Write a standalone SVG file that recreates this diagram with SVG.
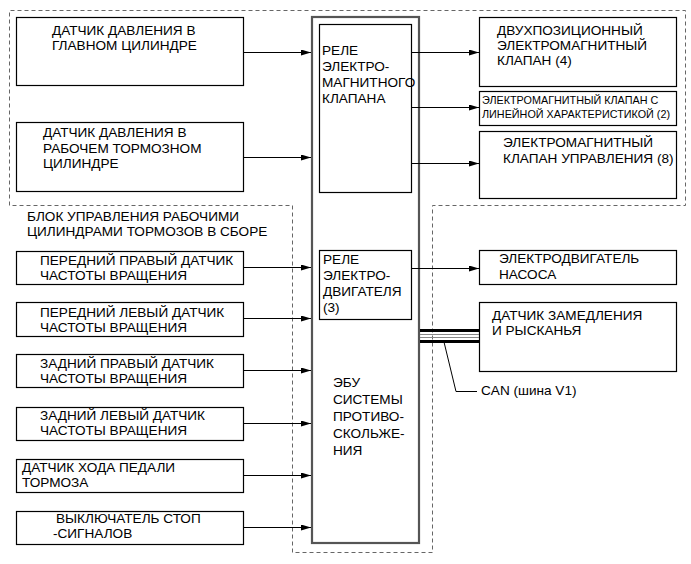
<svg xmlns="http://www.w3.org/2000/svg" width="691" height="564" viewBox="0 0 691 564">
<defs>
<style>
text{font-family:"Liberation Sans",Arial,sans-serif;font-size:13.6px;fill:#000}
.sm{font-size:10.8px}
.box{fill:#fff;stroke:#000;stroke-width:1.2}
.ecu{fill:#fff;stroke:#555;stroke-width:2.2}
.dash{fill:none;stroke:#666;stroke-width:1;stroke-dasharray:4 3}
.ln{stroke:#000;stroke-width:1;fill:none}
</style>
<marker id="ah" viewBox="0 0 10 6" refX="10" refY="3" markerWidth="10" markerHeight="6" markerUnits="userSpaceOnUse" orient="auto">
<path d="M0,0 L10,3 L0,6 z" fill="#000"/>
</marker>
</defs>

<rect width="691" height="564" fill="#fff"/>

<g id="boundary">
<path class="dash" d="M9.5,205.5 V10.5 H685.5 V205.5 H432.5 V552.5 H292.5 V205.5 H9.5"/>
</g>

<g id="ecu">
<rect class="ecu" x="312" y="17" width="107" height="526"/>
<text x="333" y="387">ЭБУ</text>
<text x="333" y="404">СИСТЕМЫ</text>
<text x="333" y="421">ПРОТИВО-</text>
<text x="333" y="438">СКОЛЬЖЕ-</text>
<text x="333" y="455">НИЯ</text>
</g>

<g id="relay-valve">
<rect class="box" x="319.5" y="24.5" width="92" height="168"/>
<text x="322" y="55">РЕЛЕ</text>
<text x="322" y="71">ЭЛЕКТРО-</text>
<text x="322" y="87">МАГНИТНОГО</text>
<text x="322" y="103">КЛАПАНА</text>
</g>

<g id="relay-motor">
<rect class="box" x="319.5" y="250.5" width="92" height="69"/>
<text x="323" y="264">РЕЛЕ</text>
<text x="323" y="280">ЭЛЕКТРО-</text>
<text x="323" y="296">ДВИГАТЕЛЯ</text>
<text x="323" y="312">(3)</text>
</g>

<g id="master-cyl-sensor">
<rect class="box" x="16.5" y="17.5" width="227" height="68"/>
<text x="52" y="35">ДАТЧИК ДАВЛЕНИЯ В</text>
<text x="52" y="50">ГЛАВНОМ ЦИЛИНДРЕ</text>
</g>

<g id="wheel-cyl-sensor">
<rect class="box" x="16.5" y="122.5" width="227" height="69"/>
<text x="43" y="137">ДАТЧИК ДАВЛЕНИЯ В</text>
<text x="43" y="152.5">РАБОЧЕМ ТОРМОЗНОМ</text>
<text x="43" y="168">ЦИЛИНДРЕ</text>
</g>

<g id="block-label">
<text x="27" y="221">БЛОК УПРАВЛЕНИЯ РАБОЧИМИ</text>
<text x="27" y="236">ЦИЛИНДРАМИ ТОРМОЗОВ В СБОРЕ</text>
</g>

<g id="fr-speed">
<rect class="box" x="16.5" y="251.5" width="227" height="33"/>
<text x="40" y="265">ПЕРЕДНИЙ ПРАВЫЙ ДАТЧИК</text>
<text x="40" y="280">ЧАСТОТЫ ВРАЩЕНИЯ</text>
</g>

<g id="fl-speed">
<rect class="box" x="16.5" y="302.5" width="227" height="34"/>
<text x="40" y="316.5">ПЕРЕДНИЙ ЛЕВЫЙ ДАТЧИК</text>
<text x="40" y="331.5">ЧАСТОТЫ ВРАЩЕНИЯ</text>
</g>

<g id="rr-speed">
<rect class="box" x="16.5" y="354.5" width="227" height="33"/>
<text x="40" y="368">ЗАДНИЙ ПРАВЫЙ ДАТЧИК</text>
<text x="40" y="383">ЧАСТОТЫ ВРАЩЕНИЯ</text>
</g>

<g id="rl-speed">
<rect class="box" x="16.5" y="407.5" width="227" height="33"/>
<text x="40" y="419.5">ЗАДНИЙ ЛЕВЫЙ ДАТЧИК</text>
<text x="40" y="435">ЧАСТОТЫ ВРАЩЕНИЯ</text>
</g>

<g id="pedal-sensor">
<rect class="box" x="16.5" y="459.5" width="227" height="33"/>
<text x="22" y="472">ДАТЧИК ХОДА ПЕДАЛИ</text>
<text x="22" y="487">ТОРМОЗА</text>
</g>

<g id="stop-switch">
<rect class="box" x="16.5" y="511.5" width="227" height="33"/>
<text x="56" y="523">ВЫКЛЮЧАТЕЛЬ СТОП</text>
<text x="53" y="538">-СИГНАЛОВ</text>
</g>

<g id="two-pos-valve">
<rect class="box" x="479.5" y="17.5" width="197" height="69"/>
<text x="497" y="35">ДВУХПОЗИЦИОННЫЙ</text>
<text x="497" y="50">ЭЛЕКТРОМАГНИТНЫЙ</text>
<text x="497" y="65">КЛАПАН (4)</text>
</g>

<g id="linear-valve">
<rect class="box" x="479.5" y="91.5" width="197" height="34"/>
<text class="sm" x="482" y="104">ЭЛЕКТРОМАГНИТНЫЙ КЛАПАН С</text>
<text class="sm" x="482" y="118">ЛИНЕЙНОЙ ХАРАКТЕРИСТИКОЙ (2)</text>
</g>

<g id="control-valve">
<rect class="box" x="479.5" y="131.5" width="197" height="67"/>
<text x="503" y="147">ЭЛЕКТРОМАГНИТНЫЙ</text>
<text x="503" y="163">КЛАПАН УПРАВЛЕНИЯ (8)</text>
</g>

<g id="pump-motor">
<rect class="box" x="479.5" y="250.5" width="197" height="34"/>
<text x="499" y="263">ЭЛЕКТРОДВИГАТЕЛЬ</text>
<text x="499" y="279">НАСОСА</text>
</g>

<g id="decel-sensor">
<rect class="box" x="479.5" y="302.5" width="197" height="69"/>
<text x="492" y="320">ДАТЧИК ЗАМЕДЛЕНИЯ</text>
<text x="492" y="335">И РЫСКАНЬЯ</text>
</g>

<g id="can-label">
<text x="481" y="395">CAN (шина V1)</text>
</g>

<g id="connectors">
<line class="ln" x1="243.5" y1="52.5" x2="311" y2="52.5" marker-end="url(#ah)"/>
<line class="ln" x1="243.5" y1="157.5" x2="311" y2="157.5" marker-end="url(#ah)"/>
<line class="ln" x1="411.5" y1="52.5" x2="479" y2="52.5" marker-end="url(#ah)"/>
<line class="ln" x1="411.5" y1="107.5" x2="479" y2="107.5" marker-end="url(#ah)"/>
<line class="ln" x1="411.5" y1="163.5" x2="479" y2="163.5" marker-end="url(#ah)"/>
<line class="ln" x1="411.5" y1="268.5" x2="479" y2="268.5" marker-end="url(#ah)"/>
<line class="ln" x1="243.5" y1="267.5" x2="311" y2="267.5" marker-end="url(#ah)"/>
<line class="ln" x1="243.5" y1="318.5" x2="311" y2="318.5" marker-end="url(#ah)"/>
<line class="ln" x1="243.5" y1="370.5" x2="311" y2="370.5" marker-end="url(#ah)"/>
<line class="ln" x1="243.5" y1="423.5" x2="311" y2="423.5" marker-end="url(#ah)"/>
<line class="ln" x1="243.5" y1="475.5" x2="311" y2="475.5" marker-end="url(#ah)"/>
<line class="ln" x1="243.5" y1="527.5" x2="311" y2="527.5" marker-end="url(#ah)"/>
<g id="can-bus">
<rect x="420" y="329" width="59" height="3" fill="#000"/>
<line x1="420" y1="334.5" x2="479" y2="334.5" stroke="#888" stroke-width="1"/>
<line x1="420" y1="337.5" x2="479" y2="337.5" stroke="#888" stroke-width="1"/>
<rect x="420" y="340" width="59" height="3" fill="#000"/>
<path class="ln" d="M444,342 L456,391.5 H477"/>
</g>
</g>
</svg>
